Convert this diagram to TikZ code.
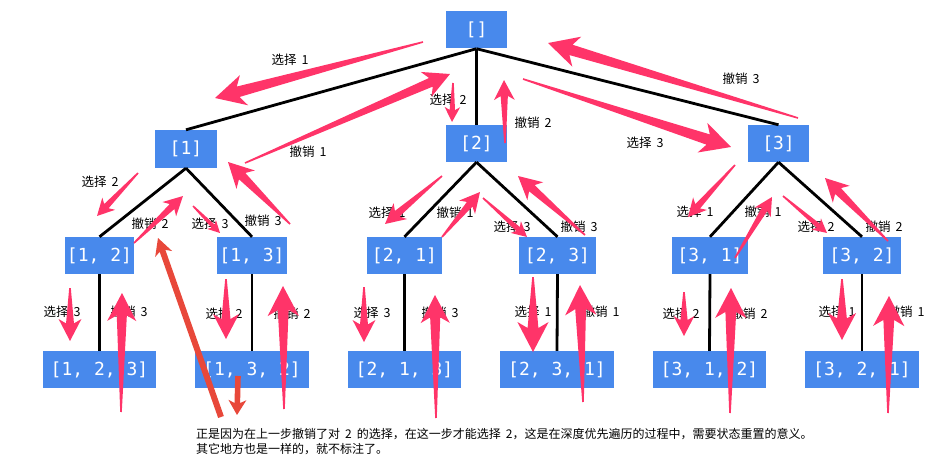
\documentclass[tikz,border=0pt]{standalone}
\usepackage{fontspec}
\setmainfont{Noto Sans CJK SC}
\newfontfamily\monof{DejaVu Sans Mono}
\usetikzlibrary{calc}
\definecolor{boxblue}{RGB}{72,137,236}
\definecolor{pinkc}{RGB}{255,52,105}
\definecolor{redc}{RGB}{232,72,58}
\tikzset{
  box/.style={fill=boxblue, text=white, font=\monof\fontsize{18}{20}\selectfont, minimum height=37pt, inner sep=0pt},
  lab/.style={font=\fontsize{12.5}{14}\selectfont, inner sep=0pt},
  edge/.style={line width=2.8pt, black},
  note/.style={font=\fontsize{12}{14}\selectfont, inner sep=0pt, anchor=west},
}
% #1 colour, #2 tail half-width, #3 neck half-width, #4 head half-width, #5 head length, #6 tail, #7 tip
\newcommand\skarr[7]{%
  \fill[#1] let \p1=(#6), \p2=(#7), \n1={atan2(\y2-\y1,\x2-\x1)}, \n2={veclen(\x2-\x1,\y2-\y1)} in
    ([shift={(\p1)},rotate=\n1]0pt,-#2pt) --
    ([shift={(\p1)},rotate=\n1]\n2-0.8*#5pt,-#3pt) --
    ([shift={(\p1)},rotate=\n1]\n2-#5pt,-#4pt) --
    ([shift={(\p1)},rotate=\n1]\n2,0pt) --
    ([shift={(\p1)},rotate=\n1]\n2-#5pt,#4pt) --
    ([shift={(\p1)},rotate=\n1]\n2-0.8*#5pt,#3pt) --
    ([shift={(\p1)},rotate=\n1]0pt,#2pt) -- cycle;}
\newcommand\pk[3]{\skarr{pinkc}{0.8}{0.18*#3}{0.52*#3}{#3}{#1}{#2}}
\newcommand\xz[1]{选择\hspace{5pt}#1}
\newcommand\cx[1]{撤销\hspace{5pt}#1}
\begin{document}
\begin{tikzpicture}[x=1pt,y=-1pt]
\useasboundingbox (0,0) rectangle (938,468);
% boxes
\node[box, minimum width=61pt] (r) at (476.5,30) {[]};
\node[box, minimum width=62pt, minimum height=38pt] (n1) at (186,149) {[1]};
\node[box, minimum width=61pt] (n2) at (476.5,143.5) {[2]};
\node[box, minimum width=61pt] (n3) at (778.5,143.5) {[3]};
\node[box, minimum width=69pt] (n12) at (99.5,255.5) {[1, 2]};
\node[box, minimum width=70pt] (n13) at (252,255.5) {[1, 3]};
\node[box, minimum width=75pt] (n21) at (404.5,255.5) {[2, 1]};
\node[box, minimum width=77pt] (n23) at (557.5,255.5) {[2, 3]};
\node[box, minimum width=76pt] (n31) at (710,255.5) {[3, 1]};
\node[box, minimum width=78pt] (n32) at (862,255.5) {[3, 2]};
\node[box, minimum width=113pt] (n123) at (99.5,369.5) {[1, 2, 3]};
\node[box, minimum width=114pt] (n132) at (252,369.5) {[1, 3, 2]};
\node[box, minimum width=113pt] (n213) at (404.5,369.5) {[2, 1, 3]};
\node[box, minimum width=114pt] (n231) at (557,369.5) {[2, 3, 1]};
\node[box, minimum width=113pt] (n312) at (709.5,369.5) {[3, 1, 2]};
\node[box, minimum width=114pt] (n321) at (862,369.5) {[3, 2, 1]};
% tree edges
\draw[edge] (r.south) -- (n1.north);
\draw[edge] (r.south) -- (n2.north);
\draw[edge] (r.south) -- (n3.north);
\draw[edge] (n1.south) -- (n12.north);
\draw[edge] (n1.south) -- (n13.north);
\draw[edge] (n2.south) -- (n21.north);
\draw[edge] (n2.south) -- (n23.north);
\draw[edge] (n3.south) -- (n31.north);
\draw[edge] (n3.south) -- (n32.north);
\draw[edge] (n12.south) -- (n123.north);
\draw[edge] (n13.south) -- (n132.north);
\draw[edge] (n21.south) -- (n213.north);
\draw[edge] (n23.south) -- (n231.north);
\draw[edge] (n31.south) -- (n312.north);
\draw[edge] (n32.south) -- (n321.north);
% labels
\node[lab] (a1) at (290,60) {\xz{1}};
\node[lab] (a2) at (448,100) {\xz{2}};
\node[lab] (a3) at (308,152) {\cx{1}};
\node[lab] (a4) at (741,79) {\cx{3}};
\node[lab] (a5) at (533,123) {\cx{2}};
\node[lab] (a6) at (645,143) {\xz{3}};
\node[lab] (b1) at (100,182) {\xz{2}};
\node[lab] (b2) at (150,224) {\cx{2}};
\node[lab] (b3) at (210,224) {\xz{3}};
\node[lab] (b4) at (263,221) {\cx{3}};
\node[lab] (b5) at (387,213) {\xz{1}};
\node[lab] (b6) at (455,213) {\cx{1}};
\node[lab] (b7) at (512,227) {\xz{3}};
\node[lab] (b8) at (579,227) {\cx{3}};
\node[lab] (b9) at (695,212) {\xz{1}};
\node[lab] (b10) at (763,212) {\cx{1}};
\node[lab] (b11) at (816,227) {\xz{2}};
\node[lab] (b12) at (884,227) {\cx{2}};
\node[lab] (c1) at (62,312) {\xz{3}};
\node[lab] (c2) at (129,312) {\cx{3}};
\node[lab] (c3) at (224,314) {\xz{2}};
\node[lab] (c4) at (292,314) {\cx{2}};
\node[lab] (c5) at (372,313) {\xz{3}};
\node[lab] (c6) at (440,313) {\cx{3}};
\node[lab] (c7) at (533,312) {\xz{1}};
\node[lab] (c8) at (601,312) {\cx{1}};
\node[lab] (c9) at (681,314) {\xz{2}};
\node[lab] (c10) at (749,314) {\cx{2}};
\node[lab] (c11) at (837,312) {\xz{1}};
\node[lab] (c12) at (906,312) {\cx{1}};
% pink arrows
\pk{423,42}{215,98}{30}
\pk{245,163}{450,74}{26}
\pk{453,83}{452,122}{15}
\pk{138,173}{97,216}{17}
\pk{134,243}{183,196}{19}
\pk{193,206}{220,233}{12}
\pk{290,224}{228,162}{25}
\pk{798,118}{548,43}{30}
\pk{505,143}{504,80}{20}
\pk{523,79}{731,147}{30}
\pk{442,176}{385,224}{20}
\pk{442,237}{480,192}{20}
\pk{483,198}{527,237}{15}
\pk{585,235}{518,176}{23}
\pk{735,165}{688,217}{18}
\pk{735,258}{772,197}{18}
\pk{783,196}{827,233}{14}
\pk{888,241}{825,178}{23}
\pk{70,288}{70,341}{22}
\pk{121,412}{122,293}{28}
\pk{226,279}{226,339}{25}
\pk{284,409}{283,286}{30}
\pk{364,287}{364,342}{22}
\pk{436,418}{435,295}{28}
\pk{533,277}{533,352}{30}
\pk{583,402}{580,285}{30}
\pk{684,292}{684,336}{20}
\pk{730,413}{731,288}{30}
\pk{842,279}{842,340}{27}
\pk{888,413}{889,296}{30}
% red arrows
\skarr{redc}{3}{3}{9}{17}{221,417}{158,238}
\skarr{redc}{2.8}{2.8}{9}{15}{238,376}{237,415}
% note
\node[note] (t1) at (196,434) {正是因为在上一步撤销了对\hspace{5pt}2\hspace{5pt}的选择，在这一步才能选择\hspace{5pt}2，这是在深度优先遍历的过程中，需要状态重置的意义。};
\node[note] (t2) at (196,449) {其它地方也是一样的，就不标注了。};
\end{tikzpicture}
\end{document}
